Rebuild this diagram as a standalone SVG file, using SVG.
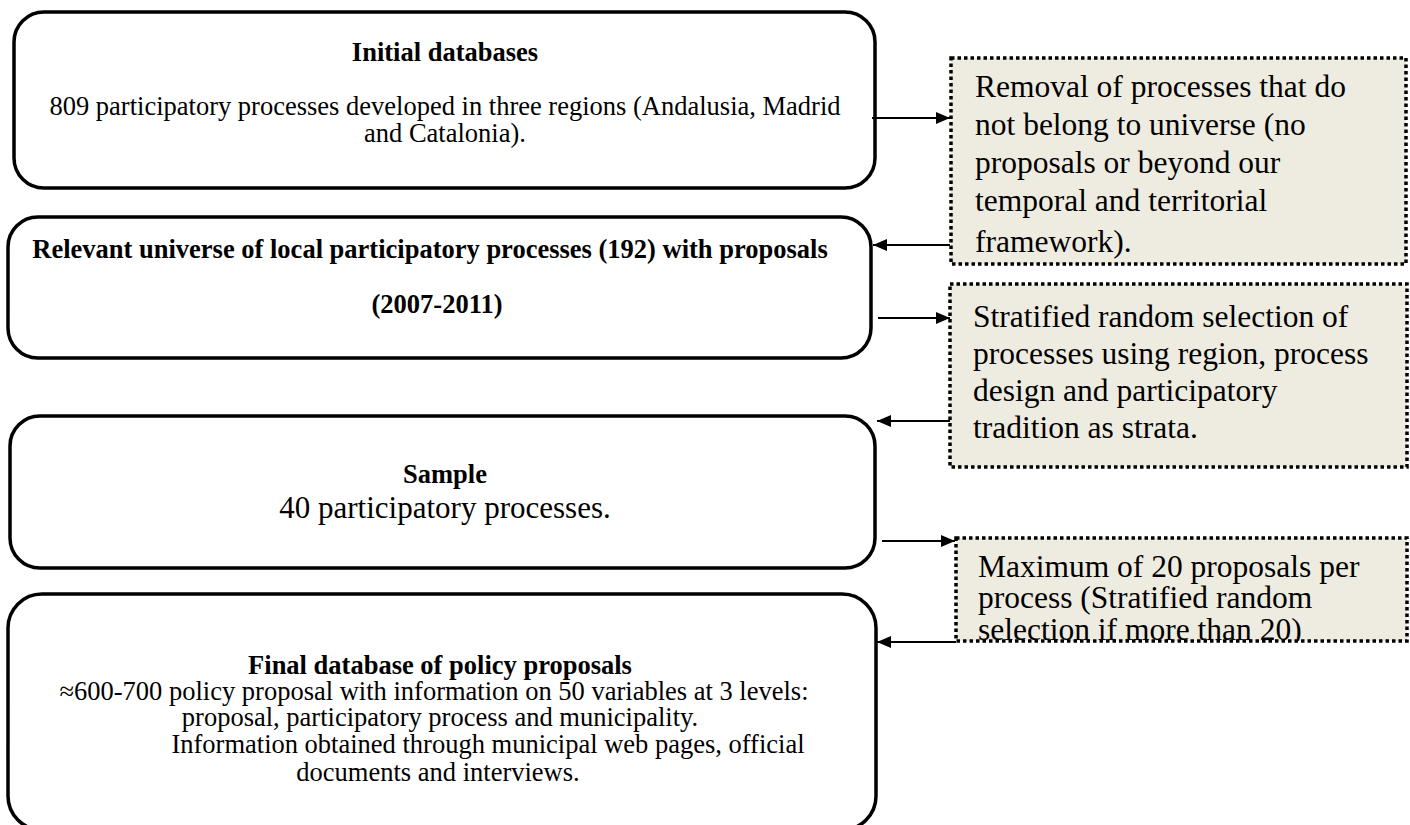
<svg xmlns="http://www.w3.org/2000/svg" width="1410" height="825" viewBox="0 0 1410 825">
<style>
.box{fill:#ffffff;stroke:#000;stroke-width:3.5}
.side{fill:#EEECE1;stroke:#000;stroke-width:3.5;stroke-dasharray:3.5 3}
text{font-family:"Liberation Serif","Times New Roman",serif;fill:#000}
.t{font-size:26.5px;font-weight:bold;text-anchor:middle}
.b{font-size:26.5px;text-anchor:middle}
.s{font-size:31.5px}
.c{stroke:#000;stroke-width:2;fill:none}
</style>
<defs>
<marker id="ah" viewBox="0 0 14 12" refX="14" refY="6" markerWidth="14" markerHeight="12" orient="auto" markerUnits="userSpaceOnUse">
<path d="M0,0 L14,6 L0,12 z" fill="#000"/>
</marker>
<clipPath id="clipC"><rect x="956" y="538" width="451" height="103"/></clipPath>
</defs>

<g id="initial">
<rect class="box" x="14" y="12" width="861" height="176" rx="30"/>
<text class="t" x="445" y="61">Initial databases</text>
<text class="b" x="445" y="115">809 participatory processes developed in three regions (Andalusia, Madrid</text>
<text class="b" x="445" y="142">and Catalonia).</text>
</g>

<g id="universe">
<rect class="box" x="8" y="217" width="863" height="141" rx="30"/>
<text class="t" x="430" y="258">Relevant universe of local participatory processes (192) with proposals</text>
<text class="t" x="437" y="313">(2007-2011)</text>
</g>

<g id="sample">
<rect class="box" x="10" y="416" width="865" height="152" rx="30"/>
<text class="t" x="445" y="483">Sample</text>
<text class="b" x="445" y="518" style="font-size:31px">40 participatory processes.</text>
</g>

<g id="final">
<rect class="box" x="8" y="594" width="868" height="236" rx="34"/>
<text class="t" x="440" y="674">Final database of policy proposals</text>
<text class="b" x="434" y="700">≈600-700 policy proposal with information on 50 variables at 3 levels:</text>
<text class="b" x="440" y="726">proposal, participatory process and municipality.</text>
<text class="b" x="488" y="753">Information obtained through municipal web pages, official</text>
<text class="b" x="438" y="781">documents and interviews.</text>
</g>

<g id="removal">
<rect class="side" x="951" y="58" width="455" height="206"/>
<text class="s" x="975" y="97">Removal of processes that do</text>
<text class="s" x="975" y="135">not belong to universe (no</text>
<text class="s" x="975" y="173">proposals or beyond our</text>
<text class="s" x="975" y="211">temporal and territorial</text>
<text class="s" x="975" y="252">framework).</text>
</g>

<g id="stratified">
<rect class="side" x="950" y="284" width="457" height="183"/>
<text class="s" x="973" y="327">Stratified random selection of</text>
<text class="s" x="973" y="364">processes using region, process</text>
<text class="s" x="973" y="401">design and participatory</text>
<text class="s" x="973" y="438">tradition as strata.</text>
</g>

<g id="maximum">
<rect class="side" x="956" y="538" width="451" height="103"/>
<g clip-path="url(#clipC)">
<text class="s" x="978" y="577">Maximum of 20 proposals per</text>
<text class="s" x="978" y="608">process (Stratified random</text>
<text class="s" x="978" y="640">selection if more than 20)</text>
</g>
</g>

<g id="connectors">
<line class="c" x1="872" y1="118" x2="950" y2="118" marker-end="url(#ah)"/>
<line class="c" x1="950" y1="245" x2="873" y2="245" marker-end="url(#ah)"/>
<line class="c" x1="878" y1="318" x2="950" y2="318" marker-end="url(#ah)"/>
<line class="c" x1="950" y1="421" x2="877" y2="421" marker-end="url(#ah)"/>
<line class="c" x1="882" y1="541" x2="955" y2="541" marker-end="url(#ah)"/>
<line class="c" x1="956" y1="642" x2="877" y2="642" marker-end="url(#ah)"/>
</g>
</svg>
